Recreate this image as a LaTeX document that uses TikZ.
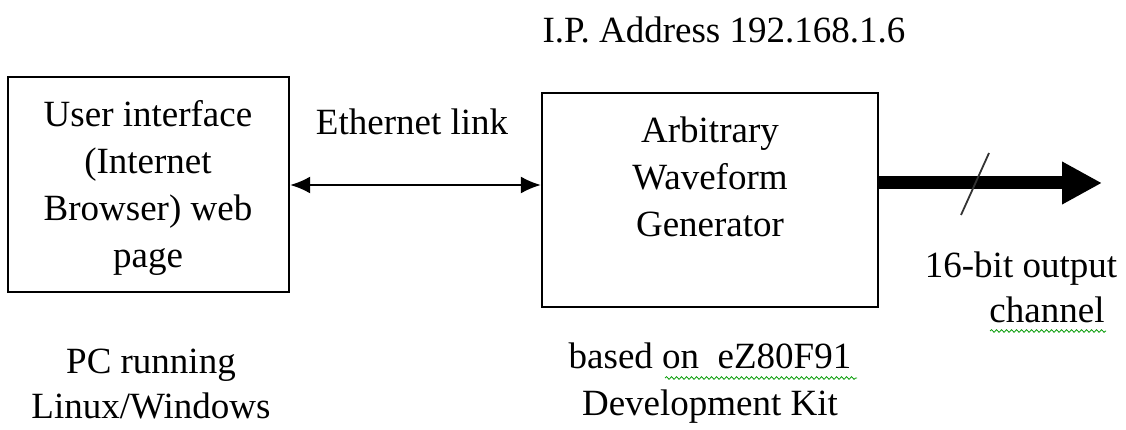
\documentclass[tikz,border=0pt]{standalone}
\usepackage{fontspec}
\setmainfont{Liberation Serif}
\usetikzlibrary{arrows.meta,decorations.pathmorphing}
\begin{document}
\begin{tikzpicture}[x=1pt,y=-1pt,
  blockbox/.style={draw=black,line width=2.2pt,minimum width=#1,inner sep=0pt},
  lbl/.style={font=\fontsize{37}{47}\selectfont,align=center,inner sep=0pt},
  link/.style={line width=2.2pt,{Latex[length=20pt,width=17pt]}-{Latex[length=20pt,width=17pt]}},
  bus/.style={line width=13pt,-{Triangle[length=40pt,width=40pt]}},
  squiggle/.style={draw=green!60!black,line width=0.8pt,decorate,decoration={snake,amplitude=1.3pt,segment length=5pt}}]
\useasboundingbox (0,0) rectangle (1126,430);
% boxes
\node[blockbox=281pt,minimum height=215pt] (pc) at (148.5,184.5) {};
\node[blockbox=336pt,minimum height=214pt] (awg) at (710,200) {};
% box texts
\node[lbl] (pctext) at (148,188) {User interface\\(Internet\\Browser) web\\page};
\node[lbl] (awgtext) at (710,177) {Arbitrary\\Waveform\\Generator};
% labels
\node[lbl,anchor=base] (eth) at (412,135) {Ethernet link};
\node[lbl,anchor=base] (ip) at (724,43) {I.P. Address 192.168.1.6};
\node[lbl,font=\fontsize{37}{45}\selectfont] (pclbl) at (151,384) {PC running\\Linux/Windows};
\node[lbl] (kit) at (710,383) {based on\ \ eZ80F91\\Development Kit};
\node[lbl,anchor=base] (out1) at (1021,277) {16-bit output};
\node[lbl,anchor=base] (out2) at (1047,322) {channel};
% connectors
\draw[link] (pc.east |- 0,185) -- (awg.west |- 0,185);
\coordinate (outend) at (1102,183);
\draw[bus] (awg.east |- outend) -- (outend);
\coordinate (slashtop) at (989,153);
\coordinate (slashbot) at (961,215);
\draw[line width=1.8pt,black!80] (slashtop) -- (slashbot);
% spell-check squiggles
\coordinate (sq1a) at (665,378);
\coordinate (sq1b) at (857,378);
\draw[squiggle] (sq1a) -- (sq1b);
\coordinate (sq2a) at (990,331);
\coordinate (sq2b) at (1106,331);
\draw[squiggle] (sq2a) -- (sq2b);
\end{tikzpicture}
\end{document}
